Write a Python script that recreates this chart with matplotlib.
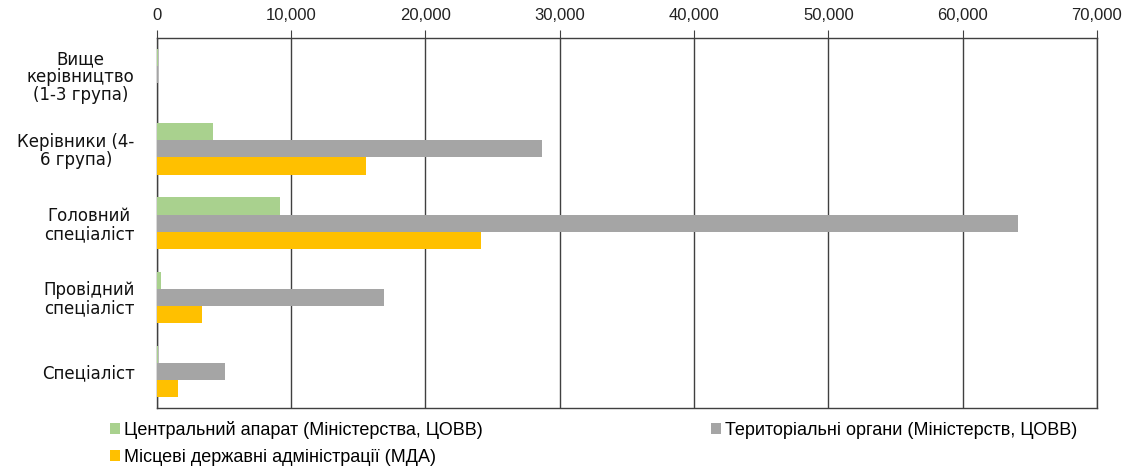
import matplotlib.pyplot as plt
import numpy as np
from matplotlib.ticker import FuncFormatter

categories = ["Вище\nкерівництво\n(1-3 група)", "Керівники (4-\n6 група)",
              "Головний\nспеціаліст", "Провідний\nспеціаліст", "Спеціаліст"]
series_names = ["Центральний апарат (Міністерства, ЦОВВ)",
                "Територіальні органи (Міністерств, ЦОВВ)",
                "Місцеві державні адміністрації (МДА)"]
central = [120, 4200, 9150, 300, 80]
territorial = [60, 28700, 64100, 16950, 5050]
local = [30, 15550, 24100, 3350, 1550]
colors = ["#A9D18E", "#A5A5A5", "#FFC000"]

plt.rcParams['font.family'] = ['Liberation Sans', 'DejaVu Sans']

fig = plt.figure(figsize=(11.45, 4.74), dpi=100)
ax = fig.add_axes([0.137, 0.139, 0.821, 0.781])

y = np.arange(len(categories))
h = 0.23
bars = []
for i, vals in enumerate([central, territorial, local]):
    b = ax.barh(y + (i - 1) * h, vals, height=h, color=colors[i],
                label=series_names[i], zorder=3)
    bars.append(b)

ax.set_ylim(len(categories) - 0.5, -0.5)
ax.set_xlim(0, 70000)
ax.set_xticks(np.arange(0, 70001, 10000))
ax.xaxis.set_major_formatter(FuncFormatter(lambda v, p: f"{int(v):,}"))
ax.xaxis.tick_top()
ax.tick_params(axis='x', direction='out', length=6, color='#404040',
               labelsize=12, labelcolor='#222222', pad=5)
ax.set_yticks(y)
ax.set_yticklabels(categories, fontsize=12, color='#111111',
                   multialignment='center', family='DejaVu Sans',
                   linespacing=1.0)
ax.tick_params(axis='y', length=0, pad=16)
ax.grid(axis='x', color='#404040', linewidth=1, zorder=0)
for s in ax.spines.values():
    s.set_color('#404040')
    s.set_linewidth(1)

# row-major order in a 2-column legend
order = [0, 2, 1]
fig.legend([bars[i] for i in order], [series_names[i] for i in order],
           loc='upper left', bbox_to_anchor=(0.085, 0.138), ncol=2,
           frameon=False, handlelength=0.55, handleheight=0.55,
           handletextpad=0.25, columnspacing=12.6, labelspacing=0.55,
           borderaxespad=0.3, prop={'size': 13})

fig.savefig("out.png", dpi=100)
